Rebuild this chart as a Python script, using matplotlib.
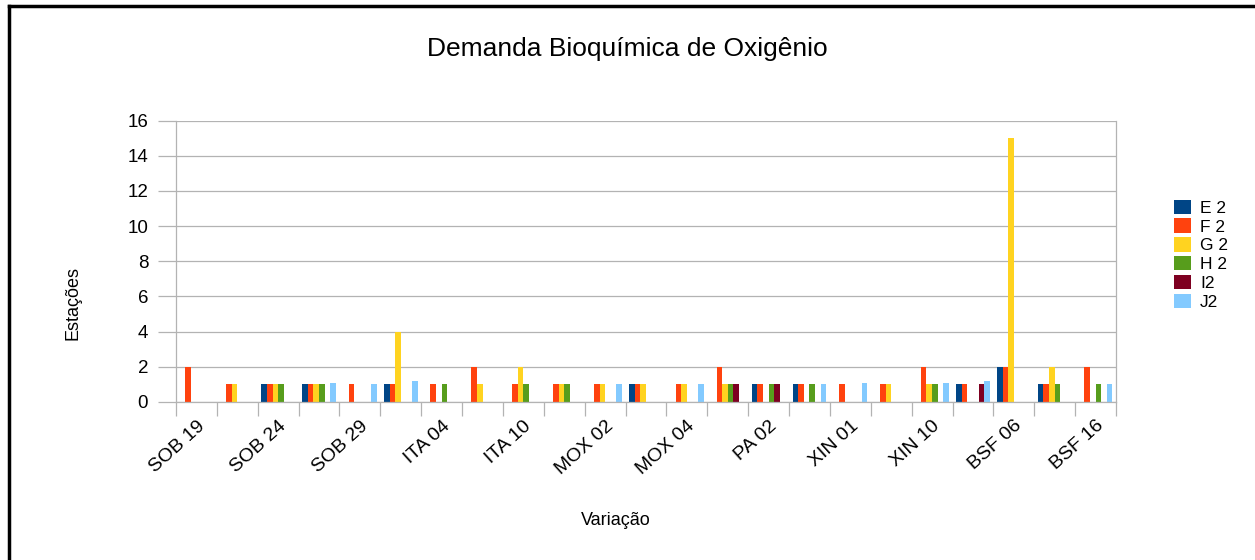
import matplotlib
matplotlib.use("Agg")
import matplotlib.pyplot as plt
from matplotlib.lines import Line2D
import numpy as np

# ---- dados ----
N_CAT = 23
TICK_LABELS = ["SOB 19", "SOB 24", "SOB 29", "ITA 04", "ITA 10", "MOX 02",
               "MOX 04", "PA 02", "XIN 01", "XIN 10", "BSF 06", "BSF 16"]
SERIES = ["E 2", "F 2", "G 2", "H 2", "I2", "J2"]

E2 = [0, 0, 1, 1, 0, 1, 0, 0, 0, 0, 0, 1, 0, 0, 1, 1, 0, 0, 0, 1, 2, 1, 0]
F2 = [2, 1, 1, 1, 1, 1, 1, 2, 1, 1, 1, 1, 1, 2, 1, 1, 1, 1, 2, 1, 2, 1, 2]
G2 = [0, 1, 1, 1, 0, 4, 0, 1, 2, 1, 1, 1, 1, 1, 0, 0, 0, 1, 1, 0, 15, 2, 0]
H2 = [0, 0, 1, 1, 0, 0, 1, 0, 1, 1, 0, 0, 0, 1, 1, 1, 0, 0, 1, 0, 0, 1, 1]
I2 = [0, 0, 0, 0, 0, 0, 0, 0, 0, 0, 0, 0, 0, 1, 1, 0, 0, 0, 0, 1, 0, 0, 0]
J2 = [0, 0, 0, 1.1, 1, 1.2, 0, 0, 0, 0, 1, 0, 1, 0, 0, 1, 1.1, 0, 1.1, 1.2, 0, 0, 1]

COLORS = ["#004586", "#ff420e", "#ffd320", "#579d1c", "#7e0021", "#83caff"]
GRID = "#b3b3b3"

plt.rcParams["font.family"] = ["Liberation Sans", "DejaVu Sans"]

fig = plt.figure(figsize=(12.55, 5.6), dpi=100)
ax = fig.add_axes([176 / 1255, 158 / 560, 940 / 1255, 281.5 / 560])

x = np.arange(N_CAT)
w = 0.137
for i, (name, vals) in enumerate(zip(SERIES, [E2, F2, G2, H2, I2, J2])):
    ax.bar(x + (i - 2.5) * w, vals, w, color=COLORS[i], label=name, zorder=2)

ax.set_xlim(-0.5, N_CAT - 0.5)
ax.set_ylim(0, 16)
ax.set_yticks(range(0, 17, 2))
ax.yaxis.grid(True, color=GRID, lw=0.9, zorder=0)

ax.set_xticks(x[::2])
ax.set_xticklabels(TICK_LABELS, rotation=42, ha="right", rotation_mode="anchor",
                   fontsize=14)
ax.set_xticks(np.arange(-0.5, N_CAT, 1), minor=True)
ax.tick_params(axis="x", which="major", length=0, pad=11)
ax.tick_params(axis="x", which="minor", length=10, color=GRID, width=0.9)
ax.tick_params(axis="y", length=13, color=GRID, width=0.9, labelsize=13.5, pad=7)

for s in ax.spines.values():
    s.set_color(GRID)
    s.set_linewidth(0.9)
ax.spines["top"].set_visible(False)

fig.text(0.5, 0.912, "Demanda Bioquímica de Oxigênio", ha="center", va="center",
         fontsize=19)
fig.text(0.058, 0.459, "Estações", rotation=90, ha="center", va="center", fontsize=13)
fig.text(0.491, 0.071, "Variação", ha="center", va="center", fontsize=13)

ax.legend(loc="center left", bbox_to_anchor=(1.045, 0.523), frameon=False,
          fontsize=12.5, handlelength=1.0, handleheight=0.9, handletextpad=0.5,
          labelspacing=0.15)

# moldura externa (só esquerda e topo visíveis)
fig.add_artist(Line2D([9 / 1255, 9 / 1255], [0, 1 - 6 / 560], color="black", lw=2.5))
fig.add_artist(Line2D([9 / 1255, 1], [1 - 6 / 560, 1 - 6 / 560], color="black", lw=2.5))

fig.savefig("out.png", dpi=100)
